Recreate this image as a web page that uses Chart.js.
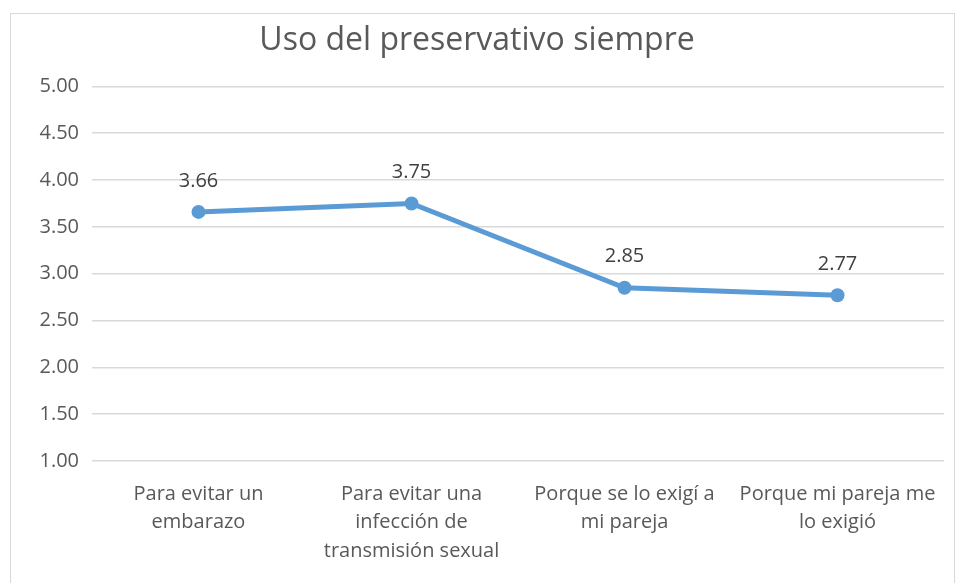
<!DOCTYPE html>
<html>
<head>
<meta charset="utf-8">
<script src="https://cdn.jsdelivr.net/npm/chart.js@4/dist/chart.umd.min.js"></script>
<style>
  html, body { margin: 0; padding: 0; background: #fff; }
  #wrap { width: 956px; height: 583px; }
</style>
</head>
<body>
<div id="wrap"><canvas id="usoChart"></canvas></div>
<script>
const categories = [
    ["Para evitar un", "embarazo"],
    ["Para evitar una", "infección de", "transmisión sexual"],
    ["Porque se lo exigí a", "mi pareja"],
    ["Porque mi pareja me", "lo exigió"]
]
const valores = [3.66, 3.75, 2.85, 2.77]
const yMin = 1
const yMax = 5
const yStep = 0.5

// marco gris alrededor del gráfico
const frame = {
    id: 'frame',
    beforeDraw(chart) {
        const ctx = chart.ctx
        ctx.save()
        ctx.strokeStyle = '#d9d9d9'
        ctx.lineWidth = 1
        ctx.strokeRect(10.5, 13.5, 944, 600)
        ctx.restore()
    }
}

// etiquetas de valor encima de cada punto
const valueLabels = {
    id: 'valueLabels',
    afterDatasetsDraw(chart) {
        const ctx = chart.ctx
        const meta = chart.getDatasetMeta(0)
        ctx.save()
        ctx.font = "20px 'Open Sans'"
        ctx.fillStyle = '#404040'
        ctx.textAlign = 'center'
        ctx.textBaseline = 'middle'
        meta.data.forEach((pt, i) => {
            ctx.fillText(valores[i].toFixed(2), pt.x, pt.y - 31)
        })
        ctx.restore()
    }
}

Chart.defaults.font.family = "'Open Sans', sans-serif"
Chart.defaults.color = '#595959'

new Chart("usoChart", {
    type: "line",
    data: {
        labels: categories,
        datasets: [{
            label: 'Uso del preservativo siempre',
            data: valores,
            borderColor: '#5b9bd5',
            backgroundColor: '#5b9bd5',
            borderWidth: 5,
            pointRadius: 7,
            pointHoverRadius: 7,
            pointBorderWidth: 0,
            tension: 0,
            fill: false
        }]
    },
    options: {
        responsive: true,
        maintainAspectRatio: false,
        animation: false,
        layout: { padding: { left: 10, top: 13, right: 12, bottom: 0 } },
        plugins: {
            legend: { display: false },
            tooltip: { enabled: false },
            title: {
                display: true,
                text: 'Uso del preservativo siempre',
                color: '#595959',
                font: { size: 32, weight: 'normal' },
                padding: { top: 9, bottom: 26 }
            }
        },
        scales: {
            x: {
                offset: true,
                grid: { display: false },
                border: { display: false },
                ticks: {
                    color: '#595959',
                    font: { size: 20, lineHeight: 1.42 },
                    maxRotation: 0,
                    autoSkip: false,
                    padding: 11
                },
                afterFit(scale) { scale.height = 122 }
            },
            y: {
                min: yMin,
                max: yMax,
                grid: { color: '#d9d9d9', lineWidth: 1.5, drawTicks: false },
                border: { display: false },
                ticks: {
                    stepSize: yStep,
                    color: '#595959',
                    font: { size: 20 },
                    padding: 13,
                    callback: (v) => v.toFixed(2)
                },
                afterFit(scale) { scale.width = 82 }
            }
        }
    },
    plugins: [frame, valueLabels]
});
</script>
</body>
</html>
